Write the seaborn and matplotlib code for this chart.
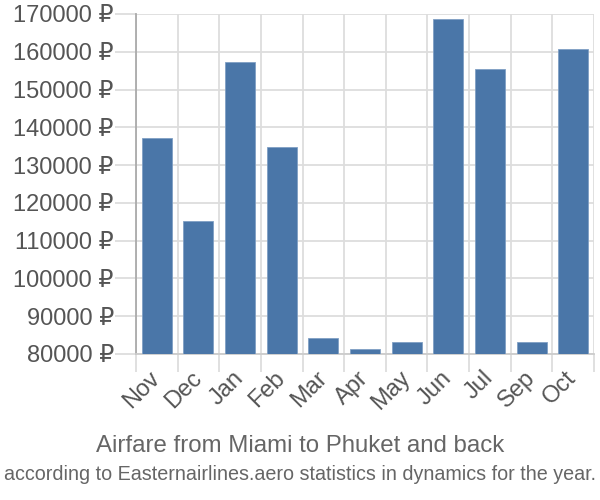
import matplotlib
matplotlib.use("Agg")
import matplotlib.pyplot as plt
import seaborn as sns
import pandas as pd
from matplotlib.ticker import FixedLocator

months = ["Nov", "Dec", "Jan", "Feb", "Mar", "Apr", "May", "Jun", "Jul", "Sep", "Oct"]
prices = [137200, 115300, 157200, 134900, 84300, 81400, 83100, 168800, 155500, 83100, 160800]
yticks = [80000, 90000, 100000, 110000, 120000, 130000, 140000, 150000, 160000, 170000]
title1 = "Airfare from Miami to Phuket and back"
title2 = "according to Easternairlines.aero statistics in dynamics for the year."

sns.set_theme(style="white")
plt.rcParams['font.family'] = ['Liberation Sans', 'DejaVu Sans']

df = pd.DataFrame({"month": months, "price": prices})

fig = plt.figure(figsize=(6, 5), dpi=100)
ax = fig.add_axes([136/600, 1-354/500, (594-136)/600, (354-14)/500])

sns.barplot(data=df, x="month", y="price", ax=ax, color="#4a76a8", saturation=1,
            width=0.72, edgecolor="#7f9fc4", linewidth=0.6, zorder=3)

ax.set_ylim(80000, 170000)
ax.set_xlim(-0.5, len(months) - 0.5)
ax.yaxis.set_major_locator(FixedLocator(yticks))
ax.set_yticklabels([f"{v} ₽" for v in yticks])
ax.xaxis.set_minor_locator(FixedLocator([i - 0.5 for i in range(len(months) + 1)]))

ax.grid(True, axis="y", which="major", color="#dddddd", linewidth=1.3, zorder=0)
ax.grid(True, axis="x", which="minor", color="#dddddd", linewidth=1.3, zorder=0)
ax.grid(False, axis="x", which="major")

for s in ["top", "right"]:
    ax.spines[s].set_visible(False)
ax.spines["left"].set_color("#aaaaaa")
ax.spines["left"].set_linewidth(1.3)
ax.spines["bottom"].set_color("#cccccc")
ax.spines["bottom"].set_linewidth(1.3)

ax.tick_params(axis="y", which="major", length=15, width=1.3, color="#dddddd",
               labelsize=17, labelcolor="#555555", pad=1, left=True)
ax.tick_params(axis="x", which="major", length=0, labelsize=17, labelcolor="#555555", pad=15)
ax.tick_params(axis="x", which="minor", length=13, width=1.3, color="#dddddd", bottom=True)

for lab in ax.get_xticklabels():
    lab.set_rotation(45)
    lab.set_ha("right")
    lab.set_va("center")
    lab.set_rotation_mode("anchor")

ax.set_xlabel("")
ax.set_ylabel("")

fig.text(0.5, 1 - 446/500, title1, ha="center", va="center", fontsize=17.3, color="#666666")
fig.text(0.5, 1 - 474/500, title2, ha="center", va="center", fontsize=14.2, color="#666666")

fig.savefig("out.png", dpi=100)
